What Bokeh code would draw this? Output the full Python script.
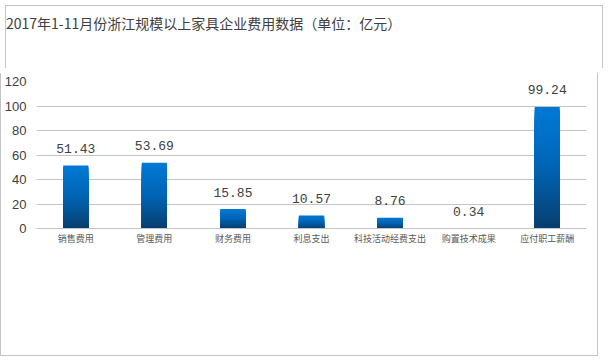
from bokeh.plotting import figure
from bokeh.models import FixedTicker, ColumnDataSource, Range1d, Div
from bokeh.layouts import column
from bokeh.core.properties import value
from bokeh.embed import file_html
from bokeh.resources import INLINE

title_text = "2017年1-11月份浙江规模以上家具企业费用数据（单位：亿元）"
categories = ["销售费用", "管理费用", "财务费用", "利息支出", "科技活动经费支出", "购置技术成果", "应付职工薪酬"]
values = [51.43, 53.69, 15.85, 10.57, 8.76, 0.34, 99.24]
y_ticks = [0, 20, 40, 60, 80, 100, 120]

W, H = 598, 346
TH = 63
BORDER = "1px solid #C4C4C4"

head = Div(text=('<div style="text-align:center;font-family:\'Noto Sans CJK SC\';font-size:14px;'
                 'color:#404040;padding-top:8px;line-height:18px;white-space:nowrap;">%s</div>' % title_text),
           width=W, height=TH,
           styles={"border-top": BORDER, "border-left": BORDER, "border-right": BORDER,
                   "box-sizing": "border-box", "background": "white"})

p = figure(x_range=categories, y_range=Range1d(0, 120), width=W, height=H - TH,
           output_backend="svg", toolbar_location=None,
           min_border_left=32, min_border_right=13, min_border_top=8, min_border_bottom=128)
p.outline_line_color = None
p.styles = {"border-bottom": BORDER, "border-left": BORDER, "border-right": BORDER,
            "box-sizing": "border-box"}

# gradient bars: nested rects from the bottom, tallest first
N = 40
top_c = (0, 122, 214)
mid_c = (0, 100, 180)
bot_c = (8, 62, 110)

def col(f):  # f: 0 at top, 1 at bottom
    if f < 0.5:
        a, b, t = top_c, mid_c, f / 0.5
    else:
        a, b, t = mid_c, bot_c, (f - 0.5) / 0.5
    return "#%02x%02x%02x" % tuple(int(round(a[k] + (b[k] - a[k]) * t)) for k in range(3))

xs, tops, cols = [], [], []
for c, v in zip(categories, values):
    for i in range(N):
        xs.append(c)
        tops.append(v * (N - i) / N)
        cols.append(col((i + 0.5) / N))
p.vbar(x=xs, bottom=0, top=tops, width=0.32, fill_color=cols, line_color=None)

src = ColumnDataSource(dict(x=categories, y=values, t=["%.2f" % v for v in values]))
p.text(x="x", y="y", text="t", source=src, text_align="center", text_baseline="middle",
       y_offset=-17, text_font=value("Liberation Mono"), text_font_size="13px", text_color="#404040")

p.xgrid.grid_line_color = None
p.ygrid.grid_line_color = "#C4C4C4"
p.ygrid.ticker = FixedTicker(ticks=y_ticks)
p.yaxis.ticker = FixedTicker(ticks=y_ticks)
p.yaxis.axis_line_color = None
p.yaxis.major_tick_line_color = None
p.yaxis.minor_tick_line_color = None
p.yaxis.major_tick_out = 0
p.yaxis.minor_tick_out = 0
p.yaxis.major_label_text_font = "Liberation Sans"
p.yaxis.major_label_text_font_size = "13px"
p.yaxis.major_label_text_color = "#404040"
p.yaxis.major_label_standoff = 10

p.xaxis.axis_line_color = "#C4C4C4"
p.xaxis.major_tick_line_color = None
p.xaxis.minor_tick_line_color = None
p.xaxis.major_tick_out = 0
p.xaxis.minor_tick_out = 0
p.xaxis.major_label_text_font = "Noto Sans CJK SC"
p.xaxis.major_label_text_font_size = "9px"
p.xaxis.major_label_text_color = "#595959"
p.xaxis.major_label_standoff = 3

layout = column(head, p, spacing=0)

open("out.html", "w").write(file_html(layout, INLINE))
